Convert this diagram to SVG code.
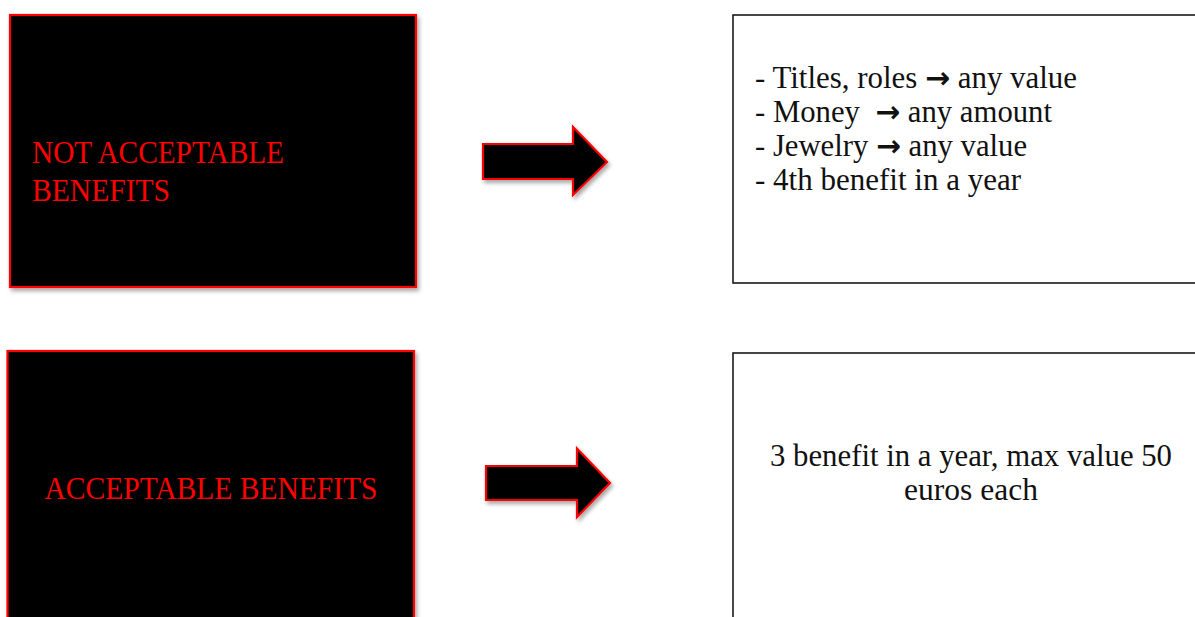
<svg xmlns="http://www.w3.org/2000/svg" width="1195" height="617" viewBox="0 0 1195 617">
<style>
.red{fill:#000;stroke:#ff0000;stroke-width:2.2}
.box{fill:#fff;stroke:#1a1a1a;stroke-width:1.6}
.lbl{font-family:"Liberation Serif","DejaVu Serif",serif;font-size:32px;fill:#ff0000}
.txt{font-family:"Liberation Serif","DejaVu Serif",serif;font-size:31px;fill:#111}
.arr{font-family:"DejaVu Sans",sans-serif;font-weight:bold;font-size:30px}
</style>
<defs>
<filter id="sh" x="-10%" y="-10%" width="130%" height="130%">
<feGaussianBlur in="SourceAlpha" stdDeviation="2"/>
<feOffset dx="2" dy="3" result="b"/>
<feComponentTransfer><feFuncA type="linear" slope="0.35"/></feComponentTransfer>
<feMerge><feMergeNode/><feMergeNode in="SourceGraphic"/></feMerge>
</filter>
</defs>
<g id="node-not-acceptable">
<rect class="red" x="10" y="15" width="406" height="272" filter="url(#sh)"/>
<text class="lbl" x="32" y="163" textLength="252" lengthAdjust="spacingAndGlyphs">NOT ACCEPTABLE</text>
<text class="lbl" x="32" y="201" textLength="138" lengthAdjust="spacingAndGlyphs">BENEFITS</text>
</g>
<g id="node-acceptable">
<rect class="red" x="7.5" y="351" width="406.5" height="290" filter="url(#sh)"/>
<text class="lbl" x="44.5" y="499" textLength="333" lengthAdjust="spacingAndGlyphs">ACCEPTABLE BENEFITS</text>
</g>
<g id="node-not-acceptable-details">
<rect class="box" x="733" y="15" width="480" height="268"/>
<text class="txt" x="755" y="88" textLength="322" lengthAdjust="spacingAndGlyphs">- Titles, roles <tspan class="arr">→</tspan> any value</text>
<text class="txt" x="755" y="122" textLength="297" lengthAdjust="spacingAndGlyphs">- Money&#160; <tspan class="arr">→</tspan> any amount</text>
<text class="txt" x="755" y="156" textLength="272" lengthAdjust="spacingAndGlyphs">- Jewelry <tspan class="arr">→</tspan> any value</text>
<text class="txt" x="755" y="190" textLength="266" lengthAdjust="spacingAndGlyphs">- 4th benefit in a year</text>
</g>
<g id="node-acceptable-details">
<rect class="box" x="733" y="353" width="480" height="290"/>
<text class="txt" x="770" y="466" textLength="402" lengthAdjust="spacingAndGlyphs">3 benefit in a year, max value 50</text>
<text class="txt" x="904" y="500" textLength="134" lengthAdjust="spacingAndGlyphs">euros each</text>
</g>
<g id="connectors">
<path class="red" filter="url(#sh)" d="M483,144 L573,144 L573,127 L607,162 L573,195 L573,179 L483,179 Z"/>
<path class="red" filter="url(#sh)" d="M486,466 L577,466 L577,448.5 L610,483 L577,517 L577,500 L486,500 Z"/>
</g>
</svg>
